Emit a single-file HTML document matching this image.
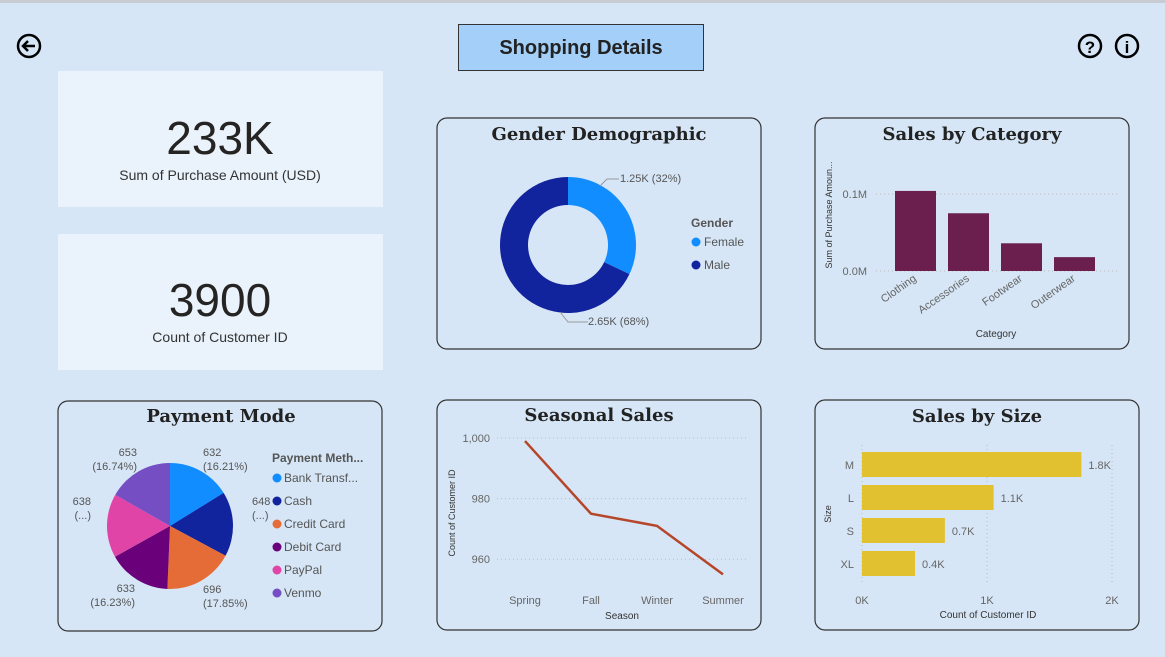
<!DOCTYPE html>
<html><head><meta charset="utf-8"><style>
html,body{margin:0;padding:0;width:1165px;height:657px;overflow:hidden;background:#d6e6f6;font-family:"Liberation Sans",sans-serif}
svg text{font-family:"Liberation Sans",sans-serif}
.t{font-family:"DejaVu Serif","Liberation Serif",serif;font-weight:bold;font-size:18px;fill:#222}
.ax{font-size:11px;fill:#666}
</style></head><body>
<svg id="s" width="1165" height="657" xmlns="http://www.w3.org/2000/svg">
<rect x="0" y="0" width="1165" height="3" fill="#c8ccd2"/>
<g><circle cx="29" cy="46" r="11" fill="none" stroke="#000" stroke-width="2.5"/><path d="M35 46H23M28 41l-5 5 5 5" fill="none" stroke="#000" stroke-width="2.5"/></g>
<g><rect x="458.5" y="24.5" width="245" height="46" fill="#a3cff9" stroke="#333"/><text x="581" y="54" text-anchor="middle" font-size="20" font-weight="bold" fill="#222">Shopping Details</text></g>
<g><circle cx="1090" cy="46" r="11" fill="none" stroke="#000" stroke-width="2.5"/><text x="1090" y="53" text-anchor="middle" font-size="17" font-weight="bold">?</text></g>
<g><circle cx="1127" cy="46" r="11" fill="none" stroke="#000" stroke-width="2.5"/><text x="1127" y="53" text-anchor="middle" font-size="17" font-weight="bold">i</text></g>
<g><rect x="58" y="71" width="325" height="136" fill="#eaf3fc"/><text x="220" y="154" text-anchor="middle" font-size="46" fill="#252423">233K</text><text x="220" y="180" text-anchor="middle" font-size="14" fill="#333">Sum of Purchase Amount (USD)</text></g>
<g><rect x="58" y="234" width="325" height="136" fill="#eaf3fc"/><text x="220" y="316" text-anchor="middle" font-size="46" fill="#252423">3900</text><text x="220" y="342" text-anchor="middle" font-size="14" fill="#333">Count of Customer ID</text></g>
<g fill="none" stroke="#333" stroke-width="1.2">
<rect x="437" y="118" width="324" height="231" rx="10"/>
<rect x="815" y="118" width="314" height="231" rx="10"/>
<rect x="58" y="401" width="324" height="230" rx="10"/>
<rect x="437" y="400" width="324" height="230" rx="10"/>
<rect x="815" y="400" width="324" height="230" rx="10"/>
</g>
<text class="t" x="599" y="140" text-anchor="middle">Gender Demographic</text>
<text class="t" x="972" y="140" text-anchor="middle">Sales by Category</text>
<text class="t" x="221" y="422" text-anchor="middle">Payment Mode</text>
<text class="t" x="599" y="421" text-anchor="middle">Seasonal Sales</text>
<text class="t" x="977" y="422" text-anchor="middle">Sales by Size</text>
<g id="g1"></g><g id="g2"></g><g id="g3"></g><g id="g4"></g><g id="g5"></g>
</svg>
<script>
const genders=["Female","Male"], genderVals=[1250,2650], genderLabels=["1.25K (32%)","2.65K (68%)"];
const catNames=["Clothing","Accessories","Footwear","Outerwear"], catVals=[104000,75000,36000,18000];
const payNames=["Bank Transf...","Cash","Credit Card","Debit Card","PayPal","Venmo"], payVals=[632,648,696,633,638,653];
const payLabels=[["632","(16.21%)"],["648","(...)"],["696","(17.85%)"],["633","(16.23%)"],["638","(...)"],["653","(16.74%)"]];
const seasons=["Spring","Fall","Winter","Summer"], seasonVals=[999,975,971,955];
const seasonTicks=[960,980,1000];
const sizes=["M","L","S","XL"], sizeVals=[1755,1053,663,424], sizeLabels=["1.8K","1.1K","0.7K","0.4K"];
const sizeTicks=[0,1000,2000], sizeTickLabels=["0K","1K","2K"];
const NS="http://www.w3.org/2000/svg";
function mk(p,tag,a,txt){const e=document.createElementNS(NS,tag);for(const k in a)e.setAttribute(k,a[k]);if(txt!=null)e.textContent=txt;p.appendChild(e);return e;}
function arc(cx,cy,r,ri,a0,a1){const p=(r,a)=>[cx+r*Math.sin(a),cy-r*Math.cos(a)];const l=a1-a0>Math.PI?1:0;const [x0,y0]=p(r,a0),[x1,y1]=p(r,a1);
 if(ri>0){const [x2,y2]=p(ri,a1),[x3,y3]=p(ri,a0);return `M${x0} ${y0}A${r} ${r} 0 ${l} 1 ${x1} ${y1}L${x2} ${y2}A${ri} ${ri} 0 ${l} 0 ${x3} ${y3}Z`;}
 return `M${cx} ${cy}L${x0} ${y0}A${r} ${r} 0 ${l} 1 ${x1} ${y1}Z`;}
(function(){const g=document.getElementById('g1');const cols=["#118dff","#12239e"];const tot=genderVals.reduce((a,b)=>a+b);let a=0;
genderVals.forEach((v,i)=>{const a1=a+v/tot*2*Math.PI;const e=mk(g,'path',{d:arc(568,245,68,40,a,a1),fill:cols[i]});

a=a1;});
mk(g,'path',{d:"M600 186l7-7h12",fill:"none",stroke:"#999"});mk(g,'text',{x:620,y:182,"font-size":11,fill:"#555"},genderLabels[0]);
mk(g,'path',{d:"M560 312l8 10h20",fill:"none",stroke:"#999"});mk(g,'text',{x:588,y:325,"font-size":11,fill:"#555"},genderLabels[1]);
mk(g,'text',{x:691,y:227,"font-size":12,"font-weight":"bold",fill:"#555"},"Gender");
genders.forEach((n,i)=>{mk(g,'circle',{cx:696,cy:242+i*23,r:4.5,fill:cols[i]});const t=mk(g,'text',{x:704,y:246+i*23,"font-size":12,fill:"#555"},n);
});})();
(function(){const g=document.getElementById('g2');const y=v=>271-v/100000*77;const x0=885,step=53,bw=41;
[[0,"0.0M"],[100000,"0.1M"]].forEach(([v,l])=>{mk(g,'line',{x1:876,x2:1118,y1:y(v),y2:y(v),stroke:"#bbb","stroke-dasharray":"1 3"});mk(g,'text',{x:867,y:y(v)+4,"text-anchor":"end",class:"ax"},l);});
catVals.forEach((v,i)=>{const e=mk(g,'rect',{x:x0+i*step+10,y:y(v),width:bw,height:271-y(v),fill:"#6b1f4f"});

const cx=x0+i*step+30;mk(g,'text',{x:cx+2,y:280,"text-anchor":"end",class:"ax",transform:`rotate(-35 ${cx+2} 280)`},catNames[i]);});
mk(g,'text',{x:832,y:215,"font-size":9,fill:"#333","text-anchor":"middle",transform:"rotate(-90 832 215)"},"Sum of Purchase Amoun...");
mk(g,'text',{x:996,y:337,"font-size":10,fill:"#333","text-anchor":"middle"},"Category");})();
(function(){const g=document.getElementById('g3');const cols=["#118dff","#12239e","#e66c37","#6b007b","#e044a7","#744ec2"];const tot=payVals.reduce((a,b)=>a+b);let a=0;const cx=170,cy=526,r=63;
payVals.forEach((v,i)=>{const a1=a+v/tot*2*Math.PI;const e=mk(g,'path',{d:arc(cx,cy,r,0,a,a1),fill:cols[i]});
a=a1;});
const L=[[203,456,"start"],[252,505,"start"],[203,593,"start"],[135,592,"end"],[91,505,"end"],[137,456,"end"]];
payLabels.forEach((l,i)=>{mk(g,'text',{x:L[i][0],y:L[i][1],"text-anchor":L[i][2],"font-size":11,fill:"#555"},l[0]);mk(g,'text',{x:L[i][0],y:L[i][1]+14,"text-anchor":L[i][2],"font-size":11,fill:"#555"},l[1]);});
mk(g,'text',{x:272,y:462,"font-size":12,"font-weight":"bold",fill:"#555"},"Payment Meth...");
payNames.forEach((n,i)=>{mk(g,'circle',{cx:277,cy:478+i*23,r:4.5,fill:cols[i]});const t=mk(g,'text',{x:284,y:482+i*23,"font-size":12,fill:"#555"},n);
});})();
(function(){const g=document.getElementById('g4');const y=v=>438+(1000-v)*3.03;const x=i=>525+i*66;
seasonTicks.forEach(v=>{mk(g,'line',{x1:497,x2:748,y1:y(v),y2:y(v),stroke:"#bbb","stroke-dasharray":"1 3"});mk(g,'text',{x:490,y:y(v)+4,"text-anchor":"end",class:"ax"},v.toLocaleString('en-US'));});
const e=mk(g,'polyline',{points:seasonVals.map((v,i)=>x(i)+','+y(v)).join(' '),fill:"none",stroke:"#b5462a","stroke-width":2.5});

seasons.forEach((s,i)=>mk(g,'text',{x:x(i),y:604,"text-anchor":"middle",class:"ax"},s));
mk(g,'text',{x:622,y:619,"font-size":10,fill:"#333","text-anchor":"middle"},"Season");
mk(g,'text',{x:455,y:513,"font-size":9,fill:"#333","text-anchor":"middle",transform:"rotate(-90 455 513)"},"Count of Customer ID");})();
(function(){const g=document.getElementById('g5');const x=v=>862+v*0.125;
sizeTicks.forEach((v,i)=>{mk(g,'line',{x1:x(v),x2:x(v),y1:445,y2:582,stroke:"#bbb","stroke-dasharray":"1 3"});mk(g,'text',{x:x(v),y:604,"text-anchor":"middle",class:"ax"},sizeTickLabels[i]);});
sizeVals.forEach((v,i)=>{const yy=452+i*33;const e=mk(g,'rect',{x:862,y:yy,width:x(v)-862,height:25,fill:"#e2c130"});

mk(g,'text',{x:854,y:yy+17,"text-anchor":"end",class:"ax"},sizes[i]);mk(g,'text',{x:x(v)+7,y:yy+17,class:"ax"},sizeLabels[i]);});
mk(g,'text',{x:988,y:618,"font-size":10,fill:"#333","text-anchor":"middle"},"Count of Customer ID");
mk(g,'text',{x:831,y:514,"font-size":9,fill:"#333","text-anchor":"middle",transform:"rotate(-90 831 514)"},"Size");})();
</script>
</body></html>
